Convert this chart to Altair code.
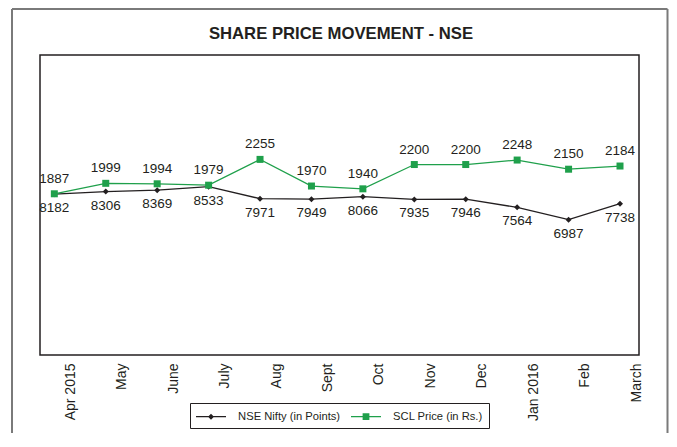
import altair as alt
import pandas as pd

# ---- data ----
months = ["Apr 2015", "May", "June", "July", "Aug", "Sept", "Oct", "Nov",
          "Dec", "Jan 2016", "Feb", "March"]
nifty = [8182, 8306, 8369, 8533, 7971, 7949, 8066, 7935, 7946, 7564, 6987, 7738]
scl = [1887, 1999, 1994, 1979, 2255, 1970, 1940, 2200, 2200, 2248, 2150, 2184]
series = ["NSE Nifty (in Points)", "SCL Price (in Rs.)"]
title_text = "SHARE PRICE MOVEMENT - NSE"

BLACK = "#231f20"
GREEN = "#1fa04b"

df = pd.DataFrame({"month": months, "nifty": nifty, "scl": scl})
legend_df = pd.DataFrame({"series": series})
frame_df = pd.DataFrame({"k": [0]})

x_enc = alt.X(
    "month:N",
    scale=alt.Scale(type="point", domain=months, padding=0.324, align=0.43),
    axis=alt.Axis(title=None, labelAngle=270, labelAlign="right",
                  labelBaseline="middle", labelOffset=16, labelPadding=8,
                  ticks=False, domain=False, grid=False,
                  labelFont="Liberation Sans", labelFontSize=14,
                  labelColor=BLACK, labelOverlap=False),
)

y_nifty = alt.Y("nifty:Q", scale=alt.Scale(domain=[650, 14700], nice=False, zero=False), axis=None)
y_scl = alt.Y("scl:Q", scale=alt.Scale(domain=[162, 3372], nice=False, zero=False), axis=None)

base = alt.Chart(df)

nifty_line = base.mark_line(color=BLACK, strokeWidth=1.3).encode(x=x_enc, y=y_nifty)
nifty_pts = base.mark_point(shape="diamond", filled=True, size=36, opacity=1, color=BLACK).encode(x=x_enc, y=y_nifty)
nifty_txt = base.mark_text(font="Liberation Sans", fontSize=13.5, color=BLACK, dy=14,
                           baseline="middle").encode(x=x_enc, y=y_nifty, text="nifty:Q")

scl_line = base.mark_line(color=GREEN, strokeWidth=1.3).encode(x=x_enc, y=y_scl)
scl_pts = base.mark_point(shape="square", filled=True, size=49, opacity=1, color=GREEN).encode(x=x_enc, y=y_scl)
scl_txt = base.mark_text(font="Liberation Sans", fontSize=13.5, color=BLACK, dy=-15,
                         baseline="middle").encode(x=x_enc, y=y_scl, text="scl:Q")

# legend-only layer (no marks drawn; supplies the legend with line+marker symbols)
sym_nifty = "M-2,-0.09H2V0.09H-2Z M0,-0.4L0.4,0L0,0.4L-0.4,0Z"
sym_scl = "M-2,-0.09H2V0.09H-2Z M-0.45,-0.45H0.45V0.45H-0.45Z"
legend = alt.Legend(orient="none", legendX=150, legendY=348, direction="horizontal",
                    title=None, strokeColor=BLACK, fillColor="white", padding=6,
                    labelFont="Liberation Sans", labelFontSize=11.2,
                    labelColor=BLACK, symbolSize=225, symbolOffset=7.5,
                    labelOffset=19.6, columnPadding=10, symbolStrokeWidth=0)
legend_layer = alt.Chart(legend_df).mark_point(filled=True, opacity=1).encode(
    color=alt.Color("series:N", scale=alt.Scale(domain=series, range=[BLACK, GREEN]), legend=legend),
    shape=alt.Shape("series:N", scale=alt.Scale(domain=series, range=[sym_nifty, sym_scl]), legend=legend),
).transform_filter("false")

# outer grey frame of the figure
frame_col = "#7a7a7a"
fr = alt.Chart(frame_df)
left_b = fr.mark_rule(color=frame_col, strokeWidth=2).encode(x=alt.value(-28), y=alt.value(-46), y2=alt.value(378))
right_b = fr.mark_rule(color=frame_col, strokeWidth=2).encode(x=alt.value(627.5), y=alt.value(-46), y2=alt.value(378))
top_b = fr.mark_rule(color=frame_col, strokeWidth=2).encode(x=alt.value(-28), x2=alt.value(627.5), y=alt.value(-46))

chart = alt.layer(
    left_b, right_b, top_b,
    nifty_line, scl_line, nifty_pts, scl_pts, nifty_txt, scl_txt, legend_layer,
).resolve_scale(y="independent").properties(
    width=599, height=300,
    background="white",
    title=alt.TitleParams(title_text, font="Liberation Sans", fontWeight="bold",
                          fontSize=16.7, color=BLACK, anchor="middle", frame="group",
                          baseline="alphabetic", offset=-47.3, dx=1.5),
    autosize=alt.AutoSizeParams(type="none"),
    padding={"left": 32, "top": 47, "right": 30, "bottom": 78},
).configure_view(stroke=BLACK, strokeWidth=1.5)

chart.save("out.html", embed_options={"renderer": "svg", "actions": False})
